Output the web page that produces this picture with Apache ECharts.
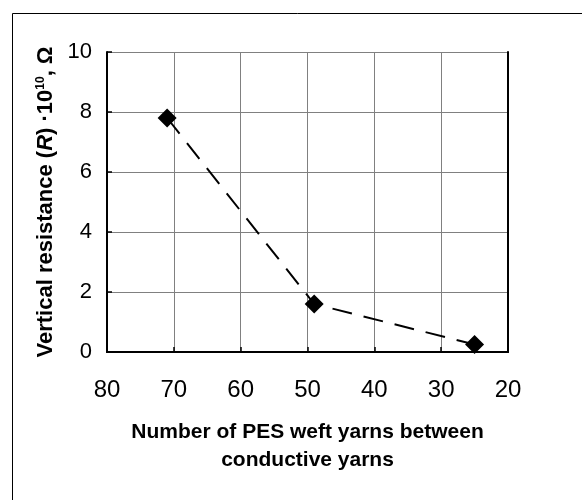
<!DOCTYPE html>
<html>
<head>
<meta charset="utf-8">
<script src="https://cdn.jsdelivr.net/npm/echarts@6/dist/echarts.min.js"></script>
<style>
html, body { margin: 0; padding: 0; background: #fff; }
#chart { width: 582px; height: 500px; }
</style>
</head>
<body>
<div id="chart"></div>
<script>
// weft yarns between conductive yarns vs vertical resistance
var weftYarns = [71, 49, 25];
var resistance = [7.8, 1.6, 0.25];
var xTicks = [80, 70, 60, 50, 40, 30, 20];
var yTicks = [0, 2, 4, 6, 8, 10];

var points = weftYarns.map(function (x, i) { return [x, resistance[i]]; });

var font = 'Liberation Sans, Arial, sans-serif';

var option = {
	animation: false,
	backgroundColor: '#fff',
	graphic: [{
		type: 'rect',
		shape: { x: 12.5, y: 13.5, width: 700, height: 700 },
		style: { fill: 'none', stroke: '#000', lineWidth: 1 },
		silent: true
	}],
	grid: {
		left: 107,
		top: 52,
		width: 401,
		height: 300
	},
	xAxis: [{
		type: 'value',
		min: 20,
		max: 80,
		interval: 10,
		inverse: true,
		axisLine: { show: true, lineStyle: { color: '#000', width: 2 } },
		axisTick: { show: true, inside: true, length: 5, lineStyle: { color: '#000', width: 1.5 } },
		splitLine: { show: true, lineStyle: { color: '#808080', width: 1 } },
		axisLabel: {
			color: '#000',
			fontSize: 24,
			fontFamily: font,
			margin: 26,
			formatter: function (v) { return xTicks.indexOf(v) >= 0 ? String(v) : ''; }
		},
		name: 'Number of PES weft yarns between\nconductive yarns',
		nameLocation: 'middle',
		nameGap: 66,
		nameTextStyle: {
			color: '#000',
			fontSize: 21,
			fontWeight: 'bold',
			fontFamily: font,
			lineHeight: 28
		}
	}, {
		type: 'value',
		position: 'top',
		min: 20,
		max: 80,
		inverse: true,
		axisLine: { show: true, lineStyle: { color: '#000', width: 2 } },
		axisTick: { show: false },
		axisLabel: { show: false },
		splitLine: { show: false }
	}],
	yAxis: [{
		type: 'value',
		min: 0,
		max: 10,
		interval: 2,
		axisLine: { show: true, lineStyle: { color: '#000', width: 2 } },
		axisTick: { show: true, inside: true, length: 5, lineStyle: { color: '#000', width: 1.5 } },
		splitLine: { show: true, lineStyle: { color: '#808080', width: 1 } },
		axisLabel: {
			color: '#000',
			fontSize: 22,
			fontFamily: font,
			margin: 15,
			formatter: function (v) { return yTicks.indexOf(v) >= 0 ? String(v) : ''; }
		},
		name: 'Vertical resistance ({i|R}) \u00B710{sup|10}, \u03A9',
		nameLocation: 'middle',
		nameGap: 31,
		nameTextStyle: {
			color: '#000',
			fontSize: 22,
			fontWeight: 'bold',
			fontFamily: font,
			rich: {
				i: { fontSize: 22, fontWeight: 'bold', fontStyle: 'italic', fontFamily: font, color: '#000' },
				sup: { fontSize: 12, fontWeight: 'bold', fontFamily: font, color: '#000', verticalAlign: 'top', padding: [0, 0, 9, 0] }
			}
		}
	}, {
		type: 'value',
		position: 'right',
		min: 0,
		max: 10,
		axisLine: { show: true, lineStyle: { color: '#000', width: 2 } },
		axisTick: { show: false },
		axisLabel: { show: false },
		splitLine: { show: false }
	}],
	series: [{
		type: 'line',
		data: points,
		symbol: 'diamond',
		symbolSize: 19,
		itemStyle: { color: '#000' },
		lineStyle: { color: '#000', width: 2, type: [20, 12] },
		z: 5
	}]
};

var myChart = echarts.init(document.getElementById('chart'));
myChart.setOption(option);
</script>
</body>
</html>
